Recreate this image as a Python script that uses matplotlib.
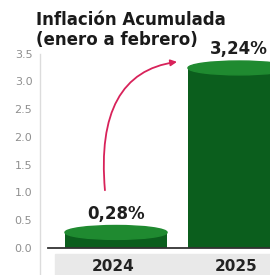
import numpy as np
import matplotlib
matplotlib.use("Agg")
import matplotlib.pyplot as plt
from matplotlib.patches import Ellipse, Rectangle
from matplotlib.transforms import blended_transform_factory

# datos
años = ["2024", "2025"]
inflacion = [0.28, 3.24]
etiquetas = ["0,28%", "3,24%"]
ticks_y = [0.0, 0.5, 1.0, 1.5, 2.0, 2.5, 3.0, 3.5]

verde_cuerpo = "#0b5e1d"
verde_tapa = "#1f8a30"
rosa = "#d8225a"
fuente = "DejaVu Sans"

fig = plt.figure(figsize=(2.7, 2.75), dpi=100)
ax = fig.add_axes([40 / 270, 27 / 275, 230 / 270, 194.5 / 275])

x = np.arange(len(años))
ancho = 0.83
alto_tapa = 0.25

ax.bar(x, inflacion, width=ancho, color=verde_cuerpo, zorder=2)
for xi, v in zip(x, inflacion):
    ax.add_patch(Ellipse((xi, v), ancho, alto_tapa, color=verde_tapa, zorder=3))

for xi, v, t in zip(x, inflacion, etiquetas):
    ax.text(xi, v + 0.34, t, ha="center", va="center", fontsize=12,
            fontweight="bold", color="#1e1e1e", family=fuente, clip_on=False)

ax.set_xlim(-0.618, 1.252)
ax.set_ylim(0, 3.5)

for s in ax.spines.values():
    s.set_visible(False)
ax.set_xticks([])
ax.set_yticks(ticks_y)
ax.set_yticklabels([f"{t:.1f}" for t in ticks_y], color="#8f8f8f", fontsize=8,
                   family=["Liberation Sans Narrow", "DejaVu Sans"])
ax.tick_params(axis="y", length=0, pad=5.5)

# eje izquierdo y linea base
ax.axvline(-0.618, ymin=-0.14, ymax=1.0, color="#dcdcdc", lw=1, clip_on=False)
ax.axhline(0, xmin=0.035, xmax=1, color="#333333", lw=1.3, zorder=4, clip_on=False)

# banda gris con los años
ax.add_patch(Rectangle((0.065, -0.139), 0.935, 0.11, transform=ax.transAxes,
                       color="#e9e9e9", clip_on=False, zorder=1))
trans = blended_transform_factory(ax.transData, ax.transAxes)
for xi, a in zip(x, años):
    ax.text(xi - 0.02, -0.093, a, transform=trans, ha="center", va="center",
            fontsize=11, fontweight="bold", color="#222222", family=fuente)

# flecha
ax.annotate("", xy=(0.496, 3.35), xytext=(-0.09, 1.04),
            arrowprops=dict(arrowstyle="-|>", color=rosa, lw=1.3, mutation_scale=9,
                            shrinkA=0, shrinkB=0,
                            connectionstyle="angle3,angleA=95,angleB=8"),
            annotation_clip=False)

fig.text(36 / 270, 0.926, "Inflación Acumulada", ha="left", va="center",
         fontsize=12, fontweight="bold", color="#1a1a1a", family=fuente)
fig.text(36 / 270, 0.853, "(enero a febrero)", ha="left", va="center",
         fontsize=12, fontweight="bold", color="#1a1a1a", family=fuente)

fig.savefig("out.png", dpi=100)
